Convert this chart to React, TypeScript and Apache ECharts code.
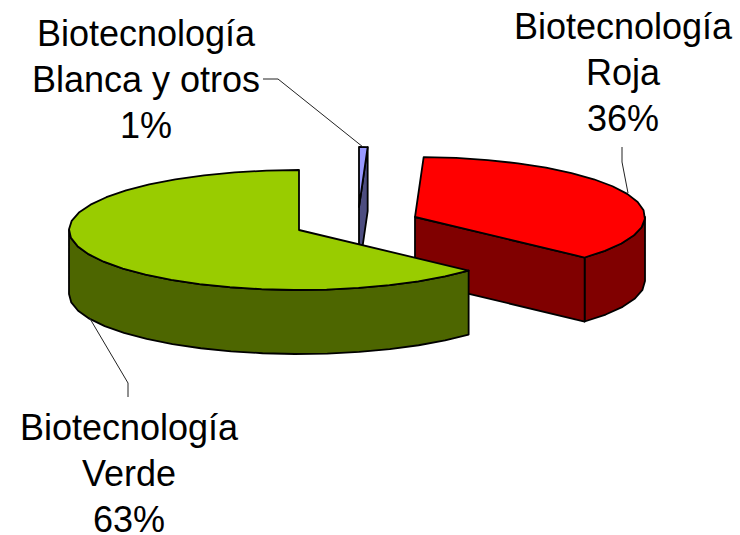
import React, { useEffect, useRef } from "react";
import * as echarts from "echarts";

const sliceNames = ["Biotecnología\nBlanca y otros", "Biotecnología\nRoja", "Biotecnología\nVerde"];
const sliceValues = [0.6, 36.2, 63.2];
const sliceLabels = ["1%", "36%", "63%"];
const topColors = ["#9999FF", "#FF0000", "#99CC00"];
const sideColors = ["#4D4D80", "#800000", "#4D6600"];
const centers = [[359, 207], [415, 217], [299, 230]];
const labelPos = [[146, 79], [623, 72], [129, 473]];
const leaders = [
  [[263, 79], [278, 79], [363, 147]],
  [[622, 147], [622, 162], [628, 193]],
  [[89, 317], [128, 383], [128, 397]],
];
const RX = 230;
const RY = 60;
const DEPTH = 64;
const STEP = 8;

const total = sliceValues.reduce((a, b) => a + b, 0);

function pt(c: number[], deg: number, dy = 0) {
  const r = (deg * Math.PI) / 180;
  return [c[0] + RX * Math.sin(r), c[1] - RY * Math.cos(r) + dy];
}
function arc(c: number[], a: number, b: number, dy = 0) {
  const out: number[][] = [];
  const n = Math.max(1, Math.round((b - a) / STEP));
  for (let i = 0; i <= n; i++) out.push(pt(c, a + ((b - a) * i) / n, dy));
  return out;
}
const edge = { stroke: "#000", lineWidth: 1.8, lineJoin: "round" as const };

function renderSlice(_: any, api: any) {
  const i = api.value(0) as number;
  const value = api.value(1) as number;
  let start = 0;
  for (let k = 0; k < i; k++) start += (sliceValues[k] / total) * 360;
  const end = start + (value / total) * 360;
  const c = centers[i];
  const children: any[] = [];
  const side = { ...edge, fill: sideColors[i] };
  // curved outer wall: the part of the rim that faces the viewer
  const wa = Math.max(start, 90);
  const wb = Math.min(end, 270);
  if (wb > wa) {
    const top = arc(c, wa, wb);
    const bottom = arc(c, wa, wb, DEPTH).reverse();
    children.push({ type: "polygon", shape: { points: [...top, ...bottom] }, style: side });
  }
  // radial face that turns towards the viewer
  if (end < 180) {
    const o = pt(c, end);
    children.push({
      type: "polygon",
      shape: { points: [c, o, [o[0], o[1] + DEPTH], [c[0], c[1] + DEPTH]] },
      style: side,
    });
  }
  children.push({
    type: "polygon",
    shape: { points: [c, ...arc(c, start, end)] },
    style: { ...edge, fill: topColors[i] },
  });
  return { type: "group", children };
}

export default function App() {
  const ref = useRef<HTMLDivElement>(null);
  useEffect(() => {
    const chart = echarts.init(ref.current!, undefined, { renderer: "svg" });
    chart.setOption({
      animation: false,
      backgroundColor: "#fff",
      series: [
        {
          type: "custom",
          coordinateSystem: "none",
          renderItem: renderSlice,
          data: sliceValues.map((v, i) => [i, v]),
          silent: true,
        },
      ],
      graphic: [
        ...leaders.map((points) => ({
          type: "polyline",
          z: 10,
          shape: { points },
          style: { stroke: "#222", lineWidth: 1, fill: "none" },
        })),
        ...sliceNames.map((name, i) => ({
          type: "text",
          z: 11,
          x: labelPos[i][0],
          y: labelPos[i][1],
          style: {
            text: `${name}\n${sliceLabels[i]}`,
            fontFamily: "Liberation Sans",
            fontSize: 36,
            lineHeight: 46,
            fill: "#000",
            align: "center",
            verticalAlign: "middle",
          },
        })),
      ],
    });
    return () => chart.dispose();
  }, []);
  return (
    <div
      ref={ref}
      style={{ position: "fixed", left: 0, top: 0, width: 740, height: 535 }}
    />
  );
}
